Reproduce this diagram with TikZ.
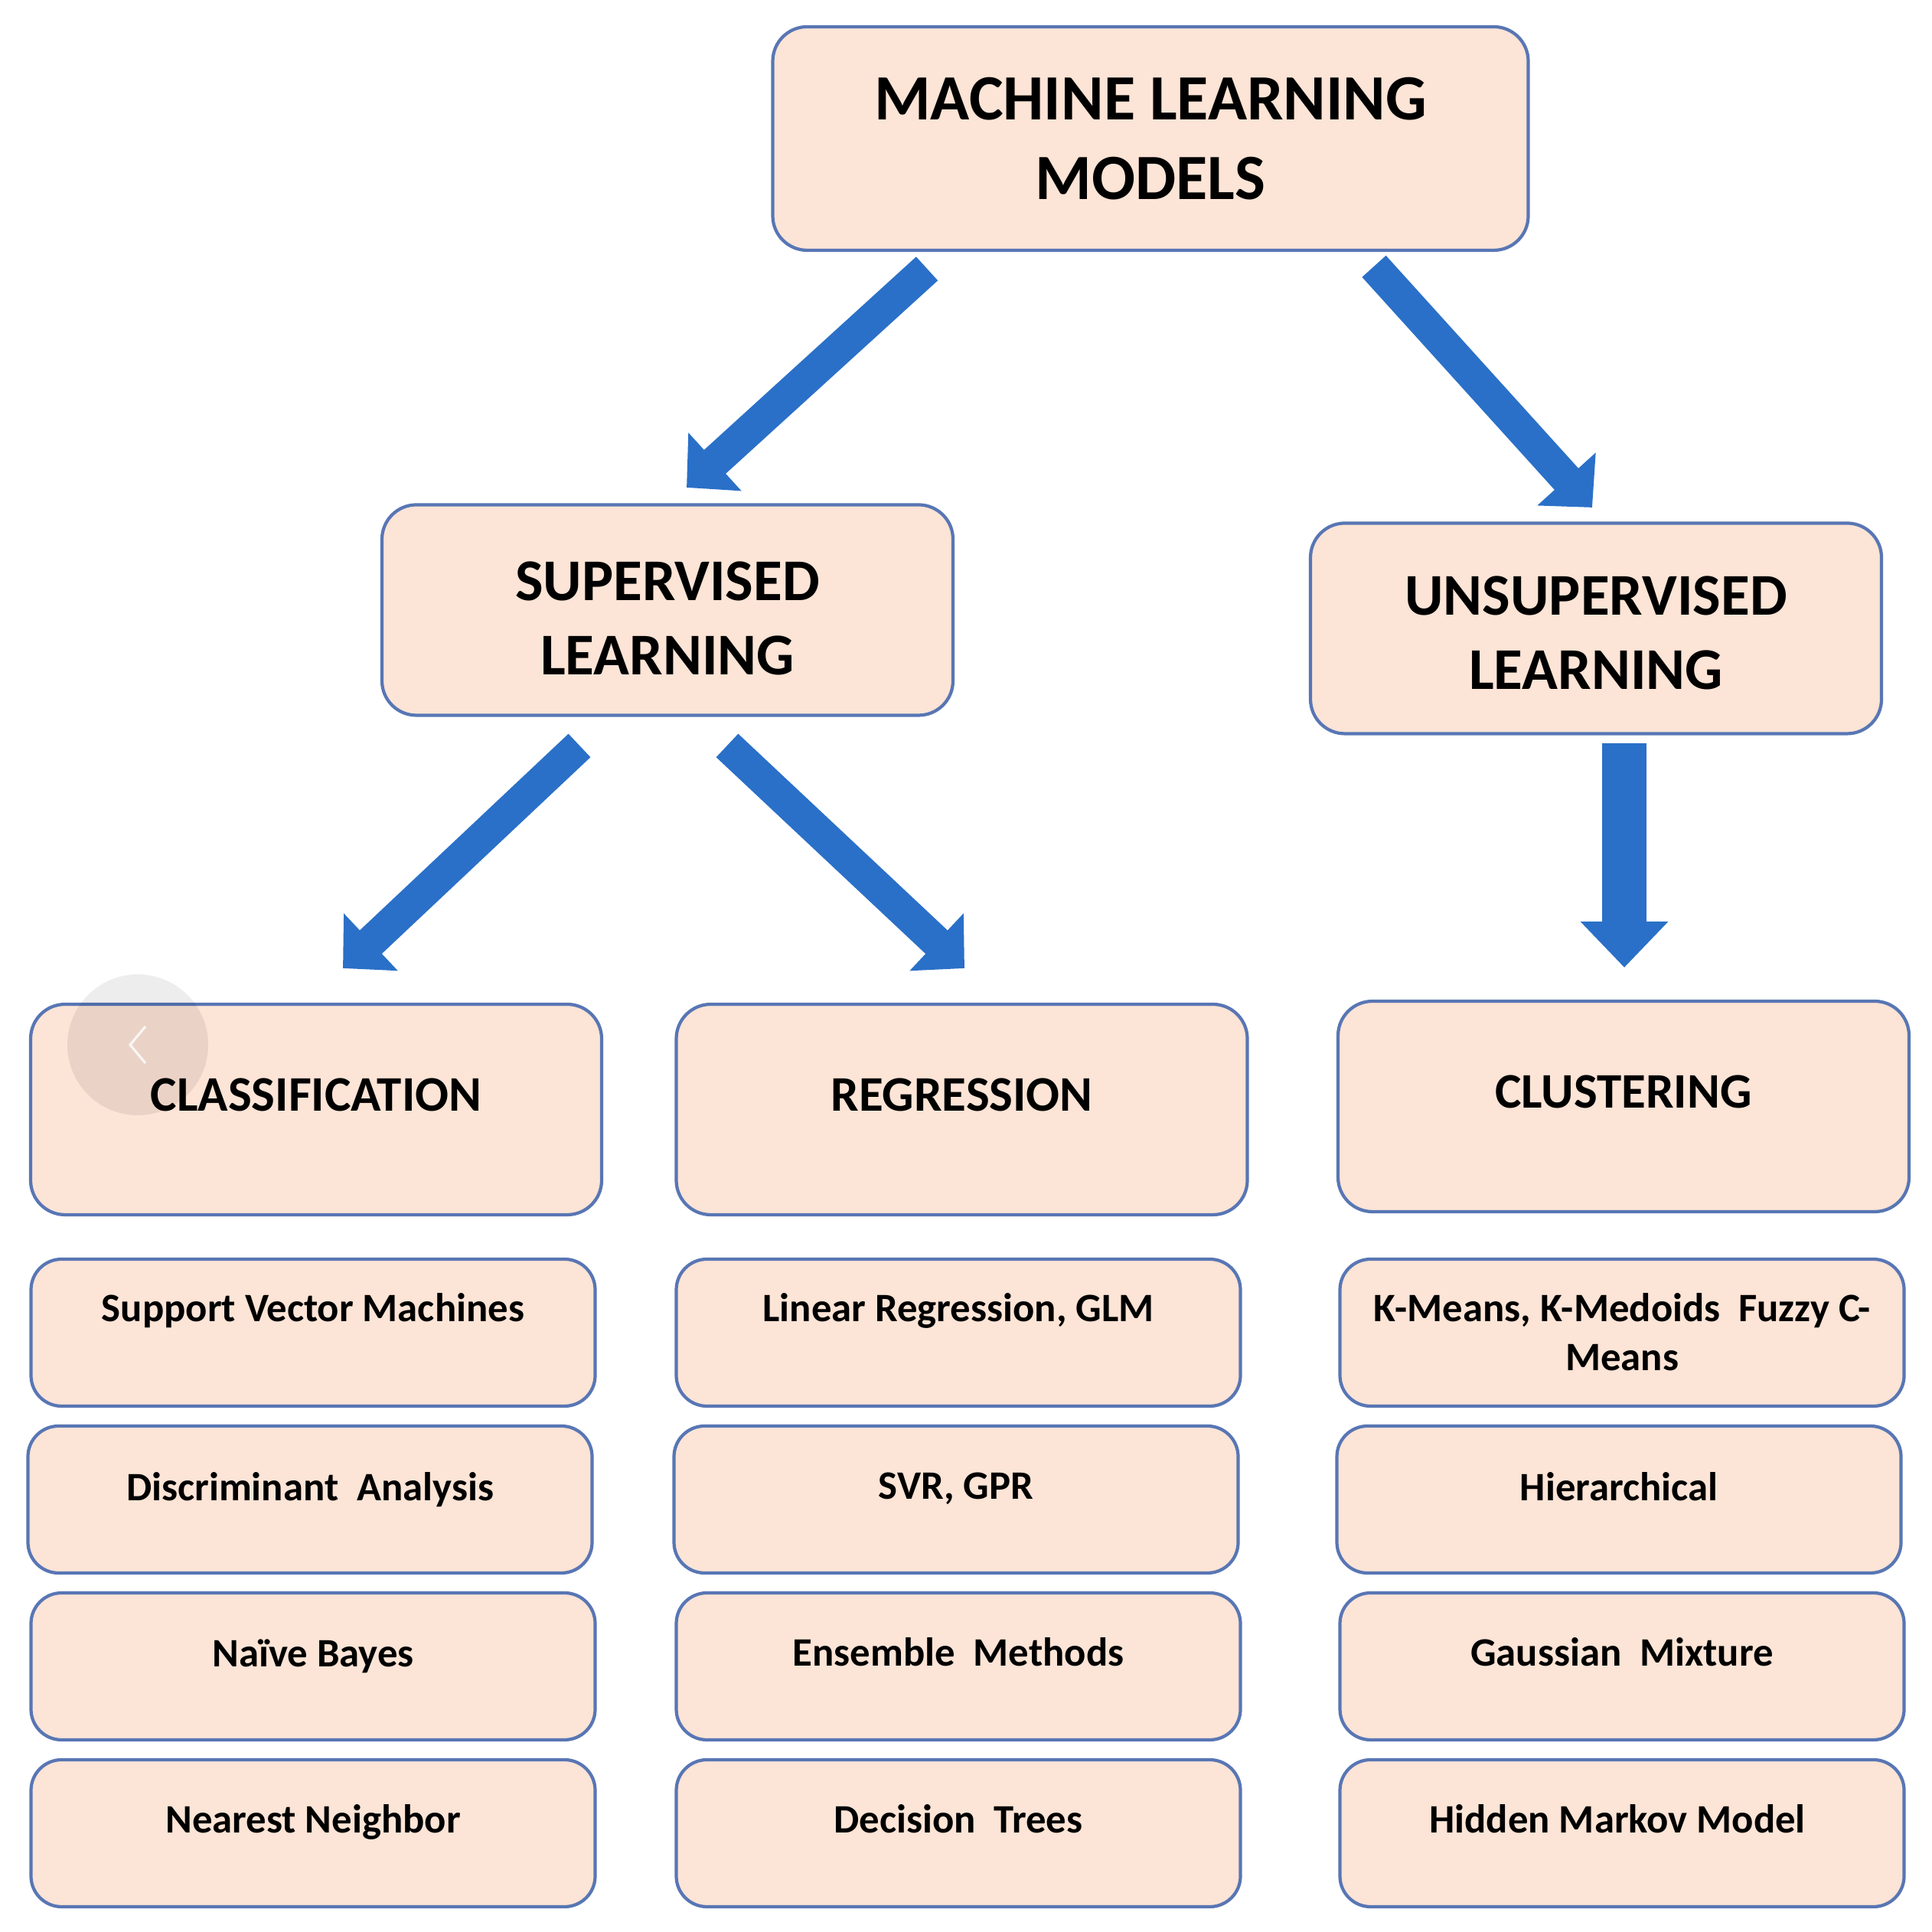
\documentclass[tikz,border=0pt]{standalone}
\usepackage{fontspec}
\setmainfont{Carlito}
\usetikzlibrary{arrows.meta,calc,positioning}
\definecolor{peachfill}{RGB}{252,228,214}
\definecolor{boxedge}{RGB}{88,118,180}
\definecolor{arrowblue}{RGB}{42,112,200}
\tikzset{
  box/.style={draw=boxedge,line width=1.2pt,fill=peachfill,rounded corners=0.45cm},
  rootbox/.style={box,minimum width=9.87cm,minimum height=2.92cm,align=center,
                  font=\fontsize{24}{29.5}\selectfont\bfseries},
  branch/.style={box,minimum width=7.46cm,minimum height=2.75cm},
  branchtext/.style={align=center,inner sep=0pt,font=\fontsize{22}{27.5}\selectfont\bfseries},
  family/.style={box,minimum width=7.46cm,minimum height=2.75cm},
  familytext/.style={font=\fontsize{18.5}{22}\selectfont\bfseries,inner sep=0pt},
  item/.style={box,minimum width=7.37cm,minimum height=1.92cm,rounded corners=0.4cm},
  itemtext/.style={font=\fontsize{15}{18.3}\selectfont\bfseries,align=center,
                   anchor=north,inner sep=0pt},
  bigarrow/.style={arrowblue,line width=0.42cm,-{Triangle[length=0.5cm,width=1.0cm]}},
  downarrow/.style={arrowblue,line width=0.58cm,-{Triangle[length=0.6cm,width=1.11cm]}},
}
\begin{document}
\begin{tikzpicture}[x=1cm,y=1cm]
  \fill[white] (0,0) rectangle (25.24,25.24);
  \useasboundingbox (0,0) rectangle (25.24,25.24);

  % top levels
  \node[rootbox] (mlm) at (15.03,23.43) {MACHINE LEARNING\\MODELS};
  \node[branch] (sup) at (8.72,17.27) {};
  \node[branchtext] (sup-t) at ($(sup.center)+(0,-0.11)$) {SUPERVISED\\LEARNING};
  \node[branch] (unsup) at (20.85,17.03) {};
  \node[branchtext] (unsup-t) at ($(unsup.center)+(0,-0.06)$) {UNSUPERVISED\\LEARNING};

  % method families
  \foreach \name/\xx/\yy/\head in {
    cls/4.13/10.745/{CLASSIFICATION},
    reg/12.565/10.745/{REGRESSION},
    clu/21.21/10.785/{CLUSTERING}
  }{
    \node[family] (\name) at (\xx,\yy) {};
    \node[familytext] (\name-t) at ($(\name.center)+(0,0.19)$) {\head};
  }

  % algorithms
  \foreach \name/\xx/\yy/\dy/\txt in {
    c1/4.09/7.83/0.46/{Support Vector Machines},
    c2/4.05/5.65/0.62/{Discriminant\ \ Analysis},
    c3/4.09/3.47/0.62/{Naïve\ Bayes},
    c4/4.09/1.29/0.60/{Nearest Neighbor},
    r1/12.52/7.83/0.46/{Linear Regression, GLM},
    r2/12.49/5.65/0.62/{SVR, GPR},
    r3/12.52/3.47/0.60/{Ensemble\ \ Methods},
    r4/12.52/1.29/0.60/{Decision\ \ Trees},
    u1/21.19/7.83/0.46/{K-Means, K-Medoids\ \ Fuzzy C-\\Means},
    u2/21.15/5.65/0.62/{Hierarchical},
    u3/21.19/3.47/0.60/{Gaussian\ \ Mixture},
    u4/21.19/1.29/0.60/{Hidden Markov Model}
  }{
    \node[item] (\name) at (\xx,\yy) {};
    \node[itemtext] (\name-t) at ($(\name.north)+(0,-\dy)$) {\txt};
  }

  % arrows
  \coordinate (a1s) at (12.11,21.73);
  \coordinate (a1e) at (8.97,18.87);
  \coordinate (a2s) at (17.95,21.76);
  \coordinate (a2e) at (20.80,18.61);
  \coordinate (a3s) at (7.57,15.50);
  \coordinate (a3e) at (4.48,12.59);
  \coordinate (a4s) at (9.50,15.50);
  \coordinate (a4e) at (12.60,12.59);
  \coordinate (a5s) at (21.22,15.53);
  \coordinate (a5e) at (21.22,12.60);
  \draw[bigarrow] (a1s) -- (a1e);
  \draw[bigarrow] (a2s) -- (a2e);
  \draw[bigarrow] (a3s) -- (a3e);
  \draw[bigarrow] (a4s) -- (a4e);
  \draw[downarrow] (a5s) -- (a5e);

  % faint round button over the classification box
  \fill[black,opacity=0.07] (1.80,11.59) circle (0.92);
  \draw[white,opacity=0.8,line width=0.9pt] (1.90,11.83) -- (1.70,11.59) -- (1.90,11.35);
\end{tikzpicture}
\end{document}
